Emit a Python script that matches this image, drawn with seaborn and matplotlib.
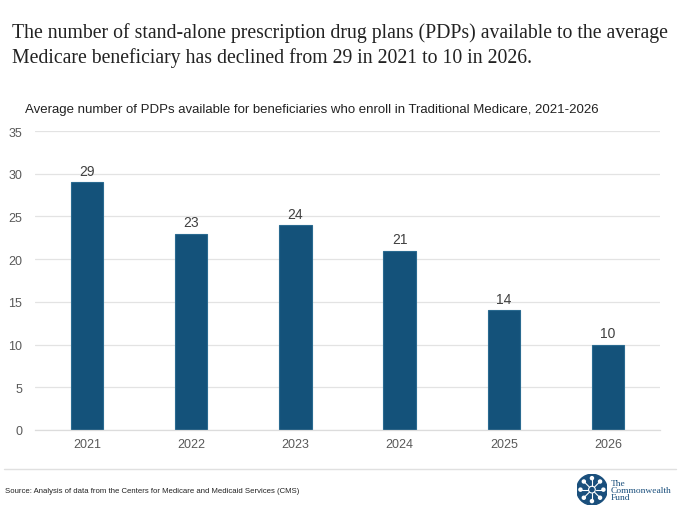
import matplotlib
matplotlib.use("Agg")
import matplotlib.pyplot as plt
import seaborn as sns
import pandas as pd
import numpy as np
from matplotlib.patches import Circle

years = ["2021", "2022", "2023", "2024", "2025", "2026"]
plans = [29, 23, 24, 21, 14, 10]
yticks = [0, 5, 10, 15, 20, 25, 30, 35]

title = ("The number of stand-alone prescription drug plans (PDPs) available to the average\n"
         "Medicare beneficiary has declined from 29 in 2021 to 10 in 2026.")
subtitle = "Average number of PDPs available for beneficiaries who enroll in Traditional Medicare, 2021-2026"
source = "Source: Analysis of data from the Centers for Medicare and Medicaid Services (CMS)"

sns.set_theme(style="white")
plt.rcParams['font.family'] = ['Liberation Sans', 'DejaVu Sans']

df = pd.DataFrame({"year": years, "plans": plans})

fig = plt.figure(figsize=(6.8, 5.1), dpi=100)
ax = fig.add_axes([0.051, 0.155, 0.920, 0.586])

bar_color = "#14527a"
sns.barplot(data=df, x="year", y="plans", color=bar_color, width=0.31,
            saturation=1, edgecolor="#2a6a90", linewidth=0.8, ax=ax)

ax.set_ylim(0, 35)
ax.set_xlim(-0.5, 5.5)
ax.set_yticks(yticks)
ax.set_yticklabels([str(t) for t in yticks])
ax.yaxis.grid(True, color="#e3e3e3", linewidth=0.9)
ax.set_axisbelow(True)
for s in ["top", "right", "left"]:
    ax.spines[s].set_visible(False)
ax.spines["bottom"].set_color("#dcdcdc")
ax.spines["bottom"].set_linewidth(0.9)
ax.set_xlabel("")
ax.set_ylabel("")
ax.tick_params(axis="both", length=0, labelsize=9, labelcolor="#595959")
ax.tick_params(axis="y", pad=9)
ax.tick_params(axis="x", pad=6)

for c in ax.containers:
    ax.bar_label(c, labels=[str(v) for v in plans], padding=3, fontsize=10,
                 color="#404040")

fig.text(0.018, 0.955, title, fontsize=14.2, family=['Liberation Serif', 'DejaVu Serif'],
         color="#222222", va="top", ha="left", linespacing=1.38)
fig.text(0.037, 0.785, subtitle, fontsize=9.5, color="#222222", va="center", ha="left")

# separator line
fig.add_artist(plt.Line2D([0.006, 0.994], [0.078, 0.078], transform=fig.transFigure,
                          color="#e0e0e0", linewidth=1.0))
fig.text(0.008, 0.037, source, fontsize=5.6, color="#222222", va="center", ha="left")

# logo
logo_ax = fig.add_axes([0.848, 0.008, 0.045, 0.06])
logo_ax.set_xlim(-1, 1)
logo_ax.set_ylim(-1, 1)
logo_ax.set_aspect("equal")
logo_ax.axis("off")
logo_ax.add_patch(Circle((0, 0), 1, color="#1a4f7c"))
for a in np.linspace(0, 2 * np.pi, 8, endpoint=False):
    logo_ax.plot([0.25 * np.cos(a), 0.7 * np.cos(a)], [0.25 * np.sin(a), 0.7 * np.sin(a)],
                 color="white", linewidth=0.8)
    logo_ax.add_patch(Circle((0.75 * np.cos(a), 0.75 * np.sin(a)), 0.1, color="white"))
logo_ax.add_patch(Circle((0, 0), 0.22, fill=False, ec="white", lw=0.8))
fig.text(0.898, 0.037, "The\nCommonwealth\nFund", fontsize=6.8, color="#1a4f7c",
         family=['Liberation Serif', 'DejaVu Serif'], va="center", ha="left",
         linespacing=0.85)

fig.savefig("out.png", dpi=100)
